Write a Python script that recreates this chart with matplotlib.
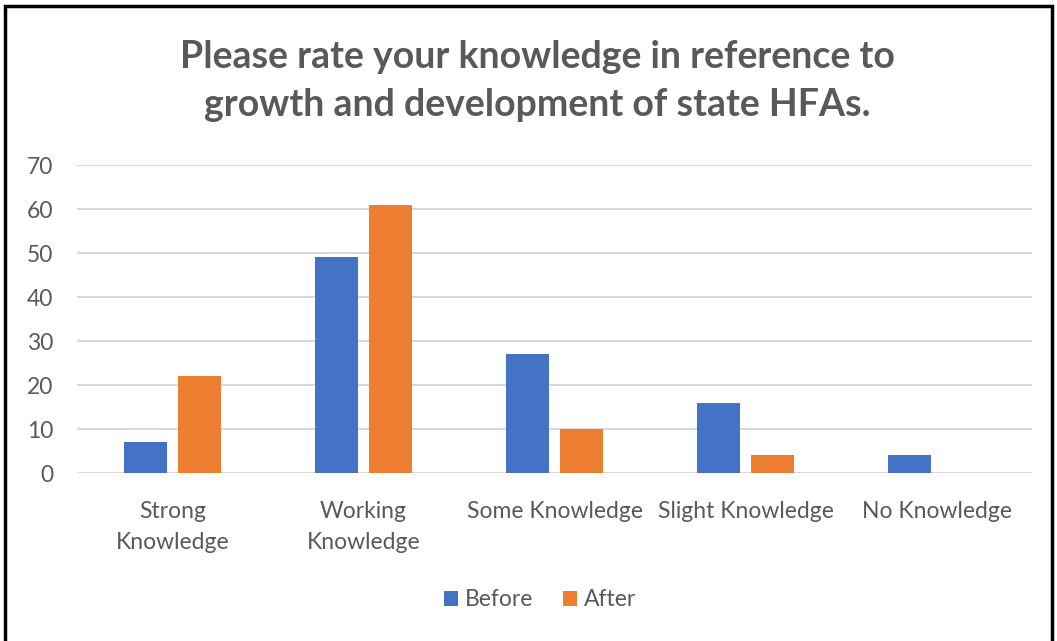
import matplotlib
matplotlib.use('Agg')
import matplotlib.pyplot as plt
import numpy as np
from matplotlib.patches import Rectangle

categories = ['Strong\nKnowledge', 'Working\nKnowledge', 'Some Knowledge', 'Slight Knowledge', 'No Knowledge']
before = [7, 49, 27, 16, 4]
after = [22, 61, 10, 4, 0]
yticks = [0, 10, 20, 30, 40, 50, 60, 70]

plt.rcParams['font.family'] = ['Lato', 'DejaVu Sans']
text_gray = '#595959'

fig = plt.figure(figsize=(10.57, 6.41), dpi=100)
ax = fig.add_axes([0.0728, 0.262, 0.904, 0.4805])

x = np.arange(len(categories))
w = 0.225
ax.bar(x - 0.141, before, w, color='#4472C4', label='Before', zorder=3)
ax.bar(x + 0.141, after, w, color='#ED7D31', label='After', zorder=3)

ax.set_xlim(-0.5, len(categories) - 0.5)
ax.set_ylim(0, 70)
ax.set_yticks(yticks)
ax.set_xticks(x)
ax.set_xticklabels(categories, linespacing=1.6)
ax.tick_params(axis='both', length=0, labelsize=16.5, labelcolor=text_gray)
ax.tick_params(axis='x', pad=20)
ax.tick_params(axis='y', pad=17)
ax.grid(axis='y', color='#D9D9D9', linewidth=1.5, zorder=0)
for s in ax.spines.values():
    s.set_visible(False)

fig.text(0.508, 0.874, 'Please rate your knowledge in reference to\ngrowth and development of state HFAs.',
         ha='center', va='center', fontsize=27, fontweight='bold', color=text_gray, linespacing=1.5)

fig.legend(loc='center', bbox_to_anchor=(0.511, 0.064), ncol=2, frameon=False,
           fontsize=16.5, labelcolor=text_gray, handlelength=0.6, handleheight=0.6,
           handletextpad=0.3, columnspacing=1.3)

fig.patches.append(Rectangle((0.005, -0.01), 0.99, 1.0, transform=fig.transFigure,
                             fill=False, edgecolor='black', linewidth=2.5))

fig.savefig('out.png', dpi=100)
